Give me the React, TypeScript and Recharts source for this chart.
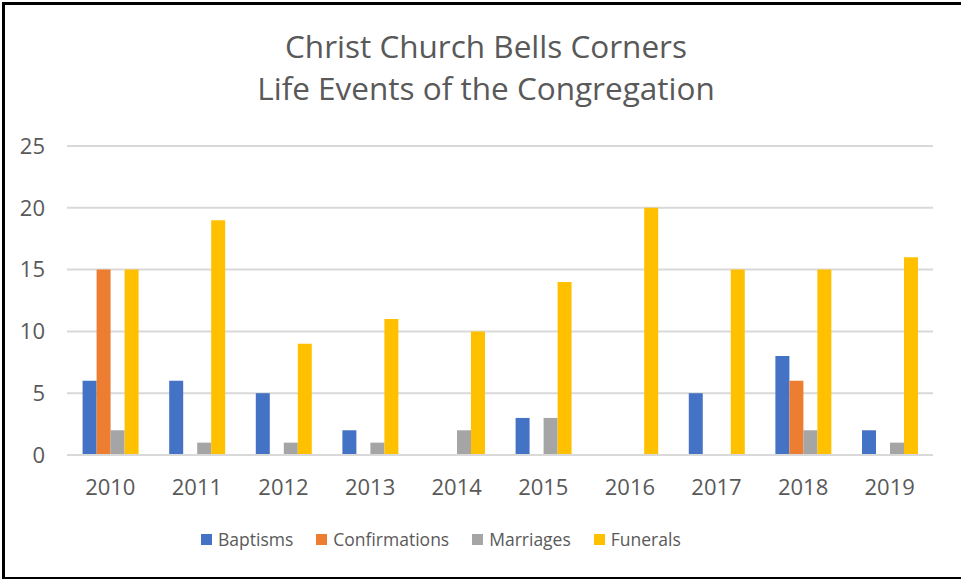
import { Bar, BarChart, CartesianGrid, Legend, XAxis, YAxis } from "recharts";

const years = ["2010", "2011", "2012", "2013", "2014", "2015", "2016", "2017", "2018", "2019"];
const baptisms = [6, 6, 5, 2, 0, 3, 0, 5, 8, 2];
const confirmations = [15, 0, 0, 0, 0, 0, 0, 0, 6, 0];
const marriages = [2, 1, 1, 1, 2, 3, 0, 0, 2, 1];
const funerals = [15, 19, 9, 11, 10, 14, 20, 15, 15, 16];
const yTicks = [0, 5, 10, 15, 20, 25];

const series = [
  { key: "baptisms", name: "Baptisms", color: "#4472C4" },
  { key: "confirmations", name: "Confirmations", color: "#ED7D31" },
  { key: "marriages", name: "Marriages", color: "#A5A5A5" },
  { key: "funerals", name: "Funerals", color: "#FFC000" },
];

const data = years.map((year, i) => ({
  year,
  baptisms: baptisms[i],
  confirmations: confirmations[i],
  marriages: marriages[i],
  funerals: funerals[i],
}));

const font = "'Open Sans', sans-serif";
const textColor = "#595959";

function LegendRow() {
  return (
    <div
      style={{
        display: "flex",
        alignItems: "center",
        height: 24,
        fontFamily: font,
        fontSize: 17.5,
        color: textColor,
        whiteSpace: "nowrap",
      }}
    >
      {series.map((s) => (
        <div key={s.key} style={{ display: "flex", alignItems: "center", marginRight: 23 }}>
          <span style={{ width: 11, height: 11, background: s.color, marginRight: 6 }} />
          <span>{s.name}</span>
        </div>
      ))}
    </div>
  );
}

export default function App() {
  return (
    <div style={{ position: "absolute", left: 0, top: 0, width: 961, height: 579, background: "#fff", overflow: "hidden" }}>
      <div
        style={{
          position: "absolute",
          left: 2,
          top: 2,
          width: 959,
          height: 577,
          boxSizing: "border-box",
          borderLeft: "3px solid #000",
          borderTop: "3px solid #000",
          borderBottom: "2px solid #000",
        }}
      />
      <div
        style={{
          position: "absolute",
          left: 0,
          top: 25,
          width: 972,
          textAlign: "center",
          fontFamily: font,
          fontSize: 31.5,
          lineHeight: "42px",
          color: textColor,
        }}
      >
        <div>Christ Church Bells Corners</div>
        <div>Life Events of the Congregation</div>
      </div>
      <div style={{ position: "absolute", left: 0, top: 0 }}>
        <BarChart
          width={961}
          height={579}
          data={data}
          margin={{ top: 146, right: 28, bottom: 94, left: 0 }}
          barCategoryGap="18%"
          barGap={0}
          style={{ fontFamily: font }}
        >
          <CartesianGrid vertical={false} stroke="#d9d9d9" strokeWidth={2} />
          <XAxis
            dataKey="year"
            height={30}
            tickLine={false}
            axisLine={{ stroke: "#d9d9d9", strokeWidth: 2 }}
            tick={{ fontSize: 22, fill: textColor, fontFamily: font }}
            tickMargin={18}
          />
          <YAxis
            width={67}
            domain={[0, 25]}
            ticks={yTicks}
            tickLine={false}
            axisLine={false}
            tick={{ fontSize: 22, fill: textColor, fontFamily: font }}
            tickMargin={16}
          />
          <Legend
            layout="horizontal"
            verticalAlign="middle"
            align="center"
            content={() => <LegendRow />}
            wrapperStyle={{ left: 201, top: 527, width: 700 }}
          />
          {series.map((s) => (
            <Bar key={s.key} dataKey={s.key} name={s.name} fill={s.color} isAnimationActive={false} />
          ))}
        </BarChart>
      </div>
    </div>
  );
}
